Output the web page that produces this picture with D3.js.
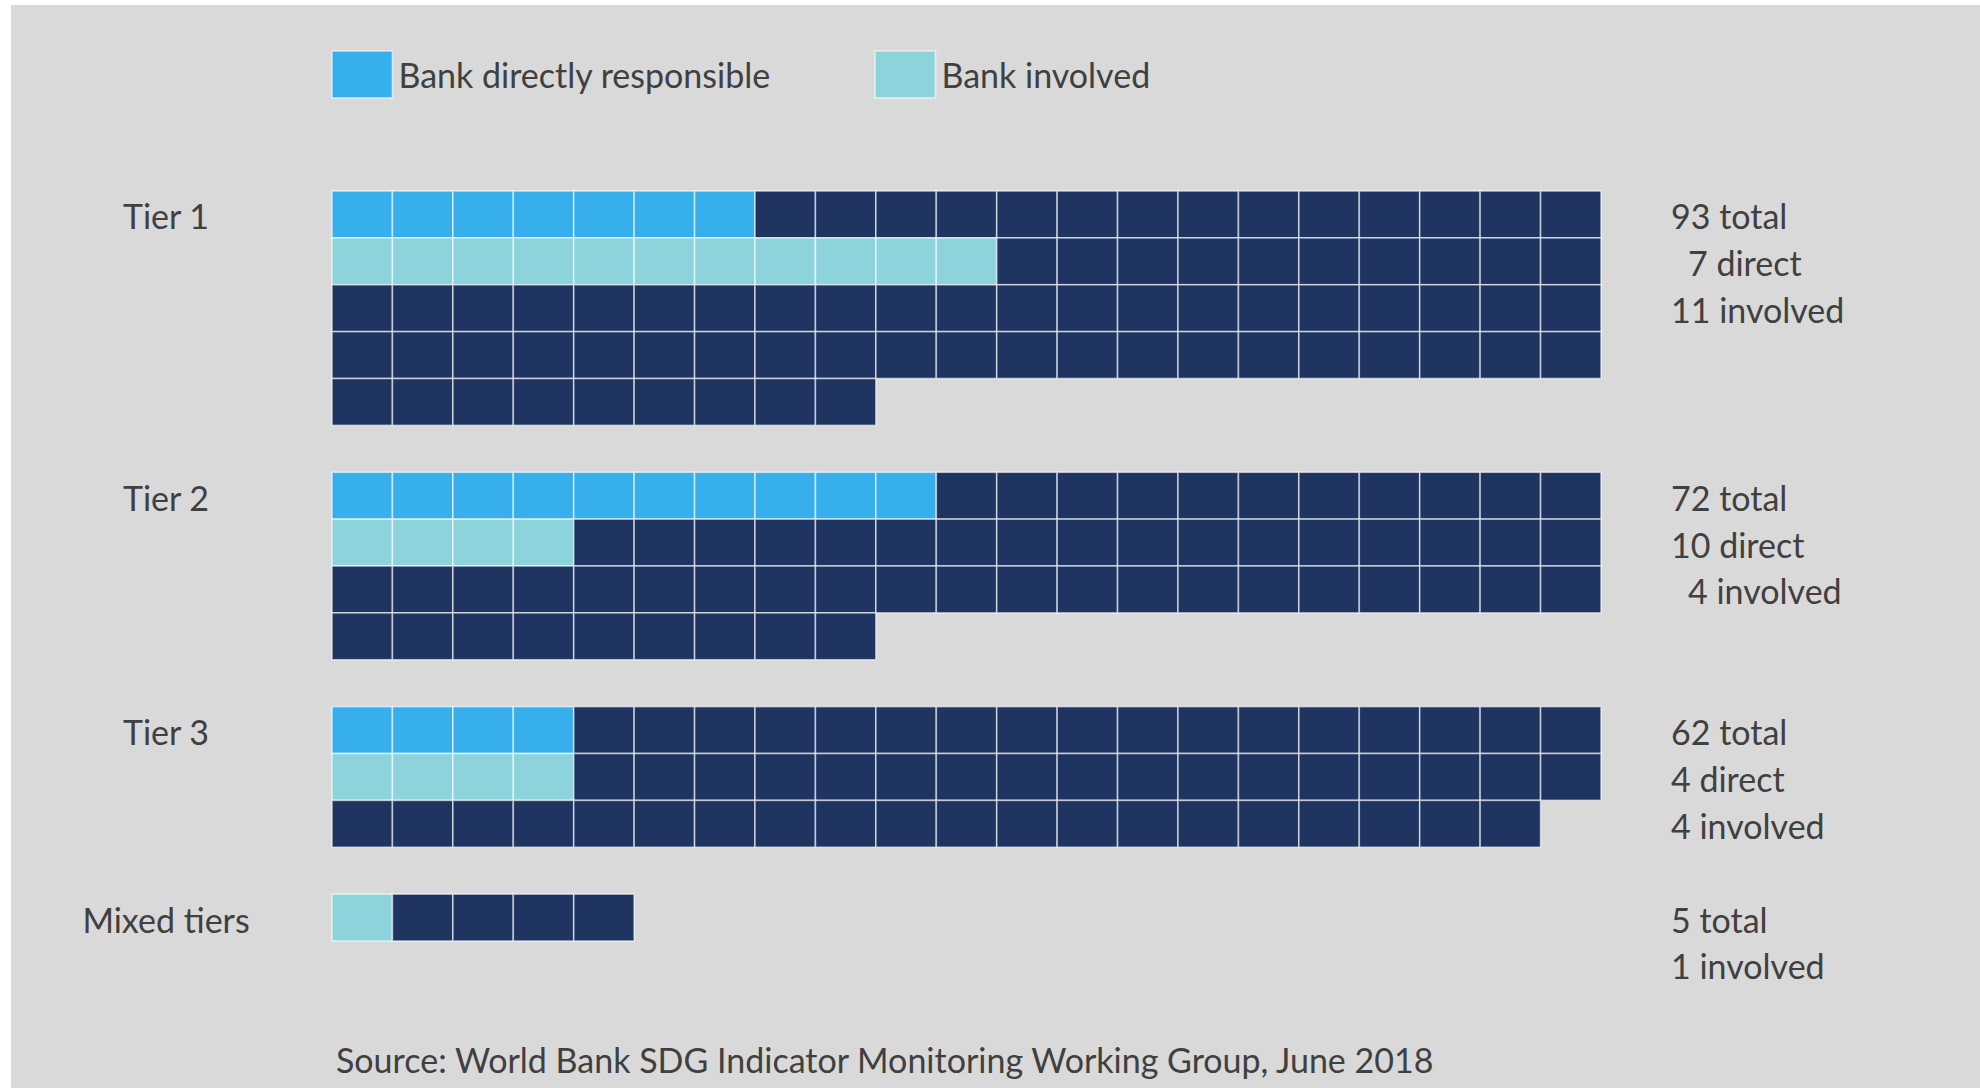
<!DOCTYPE html>
<html>
<head>
<meta charset="utf-8">
<script src="https://cdn.jsdelivr.net/npm/d3@7"></script>
<style>
  body { margin: 0; background: #ffffff; }
  text { font-family: Lato, "Open Sans", sans-serif; fill: #404040; white-space: pre; }
</style>
</head>
<body>
<div id="chart"></div>
<script>
// waffle: one cell per indicator, 21 cells to a row

var tiers = ["Tier 1", "Tier 2", "Tier 3", "Mixed tiers"];
var totals = [93, 72, 62, 5];
var direct = [7, 10, 4, 0];
var involved = [11, 4, 4, 1];
var notes = [
    ["93 total", "\u20027 direct", "11 involved"],
    ["72 total", "10 direct", "\u20024 involved"],
    ["62 total", "4 direct", "4 involved"],
    ["5 total", "1 involved"]
];
var legendLabels = ["Bank directly responsible", "Bank involved"];

var perRow = 21;
var colors = { direct: "#37afec", involved: "#8cd3db", other: "#1f3461" };

var width = 1980, height = 1088;

var svg = d3.select("#chart").append("svg")
    .attr("width", width)
    .attr("height", height);

svg.append("rect")
    .attr("x", 11).attr("y", 5)
    .attr("width", width - 11).attr("height", height - 5)
    .attr("fill", "#d9d9d9");

// row layout: each tier takes its rows plus one blank row
var startRow = [], r = 0;
totals.forEach(function(t) {
    startRow.push(r);
    r += Math.ceil(t / perRow) + 1;
});
var totalRows = r - 1;

var x = d3.scaleLinear().domain([0, perRow]).range([332, 1601]);
var y = d3.scaleLinear().domain([0, totalRows]).range([191, 941]);
var cw = x(1) - x(0), ch = y(1) - y(0);

var cells = [];
totals.forEach(function(t, i) {
    var involvedRow = direct[i] > 0 ? 1 : 0;
    for (var k = 0; k < t; k++) {
        var row = Math.floor(k / perRow), col = k % perRow;
        var kind = "other";
        if (direct[i] > 0 && row === 0 && col < direct[i]) kind = "direct";
        if (row === involvedRow && col < involved[i]) kind = "involved";
        cells.push({ tier: i, row: startRow[i] + row, col: col, kind: kind });
    }
});

svg.append("g").selectAll("rect")
    .data(cells)
    .enter().append("rect")
    .attr("x", function(d) { return x(d.col); })
    .attr("y", function(d) { return y(d.row); })
    .attr("width", cw)
    .attr("height", ch)
    .attr("fill", function(d) { return colors[d.kind]; })
    .attr("stroke", "#ffffff")
    .attr("stroke-opacity", 0.6)
    .attr("stroke-width", 1.6);

// tier names on the left
svg.append("g").selectAll("text")
    .data(tiers)
    .enter().append("text")
    .attr("x", 166)
    .attr("y", function(d, i) { return y(startRow[i] + 0.5) + 15; })
    .attr("text-anchor", "middle")
    .style("font-size", "34px")
    .text(function(d) { return d; });

// counts on the right
tiers.forEach(function(t, i) {
    svg.append("g").selectAll("text")
        .data(notes[i])
        .enter().append("text")
        .attr("x", 1671)
        .attr("y", function(d, j) { return y(startRow[i] + j + 0.5) + 15; })
        .style("font-size", "34px")
        .text(function(d) { return d; });
});

// legend
var legendX = [332, 875];
var legendKinds = ["direct", "involved"];
legendLabels.forEach(function(l, i) {
    svg.append("rect")
        .attr("x", legendX[i]).attr("y", 51)
        .attr("width", cw).attr("height", ch)
        .attr("fill", colors[legendKinds[i]])
        .attr("stroke", "#ffffff")
        .attr("stroke-opacity", 0.6)
        .attr("stroke-width", 1.6);
    svg.append("text")
        .attr("x", legendX[i] + cw + 6)
        .attr("y", 88)
        .style("font-size", "34px")
        .text(l);
});

svg.append("text")
    .attr("x", 336)
    .attr("y", 1073)
    .style("font-size", "34px")
    .text("Source: World Bank SDG Indicator Monitoring Working Group, June 2018");
</script>
</body>
</html>
